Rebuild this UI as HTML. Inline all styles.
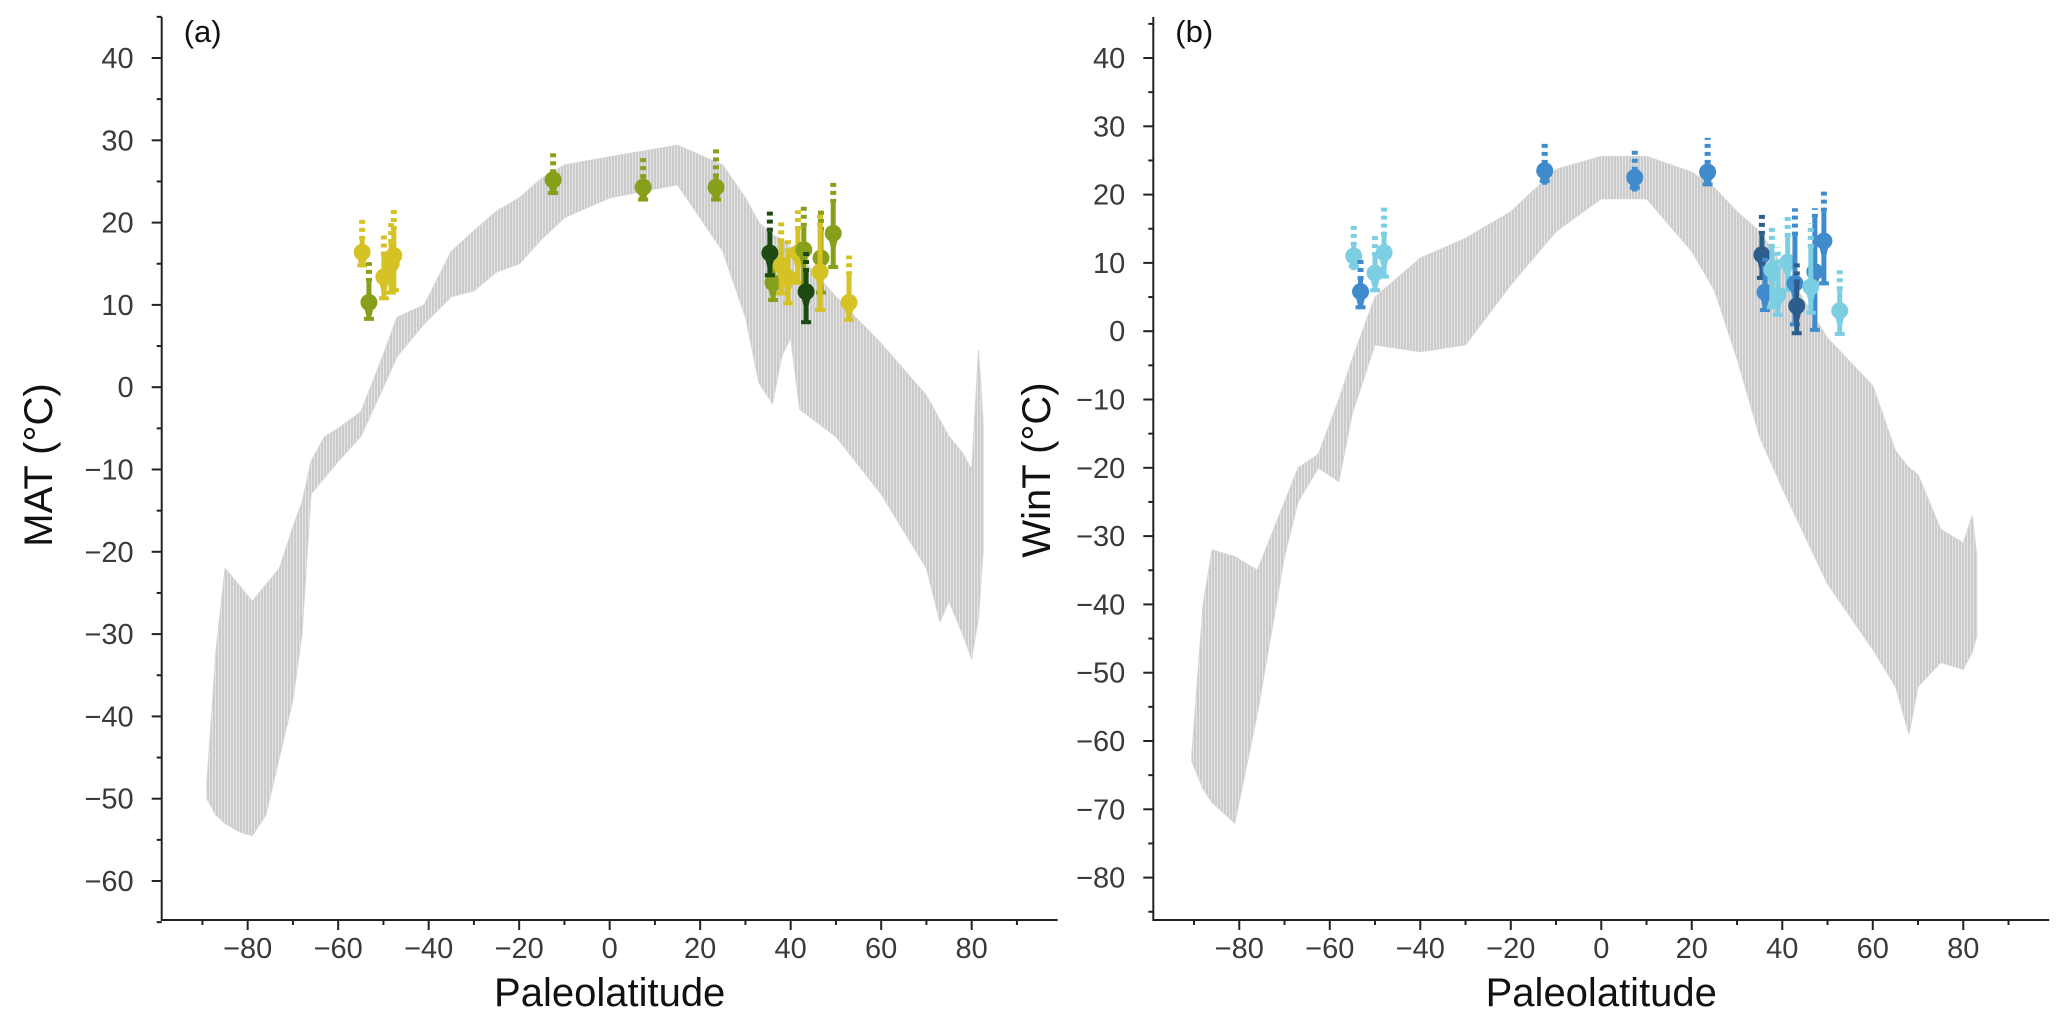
<!DOCTYPE html>
<html><head><meta charset="utf-8"><style>
html,body{margin:0;padding:0;background:#fff;}
svg{display:block;}
text{font-family:"Liberation Sans",sans-serif;}
</style></head><body>
<svg id="chart" width="2067" height="1029" viewBox="0 0 2067 1029" xmlns="http://www.w3.org/2000/svg">
<defs>
<pattern id="stripes" patternUnits="userSpaceOnUse" width="3" height="4">
<rect x="0" y="0" width="3" height="4" fill="#e4e4e4"/>
<rect x="0" y="0" width="2" height="4" fill="#cbcbcb"/>
</pattern>
</defs>
<g id="panelA"></g>
<g id="panelB"></g>
</svg>
<script>
// ---- Panel A data (MAT) ----
const cloudA_lat = [-89,-87,-85,-82,-79,-76,-73,-70,-68,-66,-63,-60,-55,-50,-47,-41,-35,-30,-25,-20,-15,-10,0,15,25,30,33,36,38,40,42,50,60,70,73,75,78,80,81.5,82.5];
const cloudA_top = [-48,-32,-22,-24,-26,-24,-22,-17,-14,-9,-6,-5,-3,4,8.5,10,16.5,19,21.4,23,25.4,27,28,29.4,27,23,20,18.5,18,17,16,11,5.3,-1,-4,-6,-8,-10,4.5,-4];
const cloudA_bot = [-50,-52,-53,-54,-54.5,-52,-45,-38,-30,-13,-11,-9,-6,0,3.7,7.7,11,11.7,14,15,18,20.6,23,24.6,16.5,8.5,0.5,-2,3.7,6,-2.7,-6,-13,-22,-28.5,-26,-30,-33,-28,-20];
const ptsA_lat  = [-54.7,-53.2,-49.9,-48.3,-47.7,-12.5,7.4,23.5,36.1,35.4,37.9,39.4,41.6,42.9,46.7,43.4,46.5,49.4,52.9];
const ptsA_mean = [16.4,10.3,13.4,15,16,25.2,24.3,24.3,12.7,16.3,14.8,13.3,16.3,16.7,15.7,11.6,14,18.7,10.3];
const ptsA_lo   = [14.8,8.3,10.8,11.5,11.8,23.6,22.8,22.8,10.6,13.6,11.4,10.2,12.7,12,11.5,7.9,9.4,14.6,8.2];
const ptsA_hi   = [17.9,12.8,16,17.5,19.1,26,25.4,25.5,14.5,18.9,17.6,16.4,19.1,19.5,19,14,19.5,22.4,13.6];
const ptsA_dash = [20.7,15.2,18.5,20,21.8,28.8,28.3,29,17,21.8,20.3,18.2,21.5,22,21.5,16.7,21.5,24.9,16];
const ptsA_grp  = ['Y','O','Y','Y','Y','O','O','O','O','G','Y','Y','Y','O','O','G','Y','O','Y'];
const yTicksA = [40,30,20,10,0,-10,-20,-30,-40,-50,-60];
// ---- Panel B data (WinT) ----
const cloudB_lat = [-90.5,-88,-86,-81,-76,-70,-67,-62.5,-58,-55,-50,-40,-30,-20,-10,0,10,20,25,30,35,40,50,60,65,68,70,75,80,82,83];
const cloudB_top = [-62,-40,-32,-33,-35,-25,-20,-18,-10,-4,5,10.7,13.6,17.5,23.7,25.6,25.6,23.3,21,17.5,14.6,9.7,-1,-8,-17.5,-20,-21,-29,-31,-27,-33];
const cloudB_bot = [-63,-67,-69,-72,-56,-33,-25,-20,-22,-12,-2,-3,-2,6.8,14.6,19.4,19.4,11.7,6,-4,-15.5,-23,-37,-46.6,-52,-59,-52,-48.5,-49.5,-47,-44.6];
const ptsB_lat  = [-54.7,-53.2,-50,-48,-12.5,7.4,23.5,35.5,36.2,37.7,39,41.2,42.8,47.2,43.2,46.3,49.2,52.7];
const ptsB_mean = [11,5.8,8.5,11.5,23.5,22.5,23.3,11.2,5.7,9,5.3,10.1,7,8.7,3.7,6.5,13.2,3];
const ptsB_lo   = [9.5,3.5,6,8,22,21,21.5,7.8,3.1,3.5,2.4,6,1,0.2,-0.3,2.7,7,-0.4];
const ptsB_hi   = [12.5,7.5,11,14,24.5,23.5,24.5,14.1,9,12.2,8.7,13.8,14,16.6,7,12.2,17.5,6];
const ptsB_dash = [16,10.5,14,18.5,28,27,28.3,17.5,11,15.3,12.3,17,18,18,10,15.8,20.7,9];
const ptsB_grp  = ['L','M','L','L','M','M','M','D','M','L','L','L','M','M','D','L','M','L'];
const yTicksB = [40,30,20,10,0,-10,-20,-30,-40,-50,-60,-70,-80];
const xTicks = [-80,-60,-40,-20,0,20,40,60,80];

const COLORS = {Y:'#d5c326',O:'#86a01c',G:'#1d4a10',L:'#7ccfe3',M:'#3f8bcb',D:'#2c5d8b'};
const NS='http://www.w3.org/2000/svg';
function mk(parent, tag, attrs){const e=document.createElementNS(NS,tag);for(const k in attrs)e.setAttribute(k,attrs[k]);parent.appendChild(e);return e;}

function drawPanel(g, cfg){
  const x = lat => cfg.x0 + (lat - cfg.xmin) * cfg.xs;
  const y = v => cfg.yTop40 + (40 - v) * cfg.ys;
  const left = x(cfg.xmin), right = x(cfg.xmax), bottom = 920, top = 17;
  let d = '';
  cfg.cLat.forEach((l,i)=>{ d += (i?'L':'M') + x(l).toFixed(1) + ' ' + y(cfg.cTop[i]).toFixed(1) + ' '; });
  for (let i=cfg.cLat.length-1;i>=0;i--) d += 'L' + x(cfg.cLat[i]).toFixed(1) + ' ' + y(cfg.cBot[i]).toFixed(1) + ' ';
  const cloud = mk(g,'path',{d:d+'Z',fill:'url(#stripes)',stroke:'#d6d6d6','stroke-width':1});
  
  
  cfg.pLat.forEach((l,i)=>{
    const c = COLORS[cfg.pGrp[i]], px = x(l);
    const pg = mk(g,'g',{});
    
    
    mk(pg,'line',{x1:px,x2:px,y1:y(cfg.pHi[i]),y2:y(cfg.pDash[i]),stroke:c,'stroke-width':6,'stroke-dasharray':'4 4'});
    mk(pg,'line',{x1:px,x2:px,y1:y(cfg.pLo[i]),y2:y(cfg.pHi[i]),stroke:c,'stroke-width':5});
    mk(pg,'rect',{x:px-5,y:y(cfg.pLo[i])-2,width:10,height:4,fill:c});
    mk(pg,'polygon',{points:`${px-6},${y(cfg.pMean[i])} ${px+6},${y(cfg.pMean[i])} ${px+2.5},${y(cfg.pMean[i])+14} ${px-2.5},${y(cfg.pMean[i])+14}`,fill:c});
    mk(pg,'circle',{cx:px,cy:y(cfg.pMean[i]),r:8.5,fill:c});
  });
  const ax = mk(g,'path',{d:`M${left} ${top} L${left} ${bottom} L${right} ${bottom}`,fill:'none',stroke:'#222','stroke-width':2});
  
  
  cfg.yTicks.forEach(v=>{
    mk(g,'line',{x1:left-10,x2:left,y1:y(v),y2:y(v),stroke:'#222','stroke-width':2});
    mk(g,'line',{x1:left-5,x2:left,y1:y(v-5),y2:y(v-5),stroke:'#222','stroke-width':2});
    const t = mk(g,'text',{x:left-28,y:y(v)+10,'text-anchor':'end','font-size':29,fill:'#3a3a3a'});
    t.textContent = v<0 ? '\u2212'+Math.abs(v) : String(v);
    
    
  });
  mk(g,'line',{x1:left-5,x2:left,y1:y(45),y2:y(45),stroke:'#222','stroke-width':2});
  for (let v=-90; v<=90; v+=20) mk(g,'line',{x1:x(v),x2:x(v),y1:bottom,y2:bottom+5,stroke:'#222','stroke-width':2});
  xTicks.forEach(v=>{
    mk(g,'line',{x1:x(v),x2:x(v),y1:bottom,y2:bottom+10,stroke:'#222','stroke-width':2});
    const t = mk(g,'text',{x:x(v),y:958,'text-anchor':'middle','font-size':29,fill:'#3a3a3a'});
    t.textContent = v<0 ? '\u2212'+Math.abs(v) : String(v);
    
    
  });
  const xt = mk(g,'text',{x:x(0),y:1006,'text-anchor':'middle','font-size':40,fill:'#111'});
  xt.textContent = 'Paleolatitude';
  
  
  const yt = mk(g,'text',{x:0,y:0,'text-anchor':'middle','font-size':40,fill:'#111',transform:`translate(${cfg.yTitleX},${cfg.yTitleY}) rotate(-90)`});
  yt.textContent = cfg.yTitle;
  
  
  const pl = mk(g,'text',{x:left+22,y:42,'font-size':31,fill:'#111'});
  pl.textContent = cfg.label;
  
  
}

drawPanel(document.getElementById('panelA'), {x0:161.7,xmin:-99,xmax:99,xs:4.525,yTop40:58,ys:8.23,
  cLat:cloudA_lat,cTop:cloudA_top,cBot:cloudA_bot,pLat:ptsA_lat,pMean:ptsA_mean,pLo:ptsA_lo,pHi:ptsA_hi,pDash:ptsA_dash,pGrp:ptsA_grp,
  yTicks:yTicksA,yTitle:'MAT (°C)',yTitleX:52,yTitleY:465,label:'(a)'});
drawPanel(document.getElementById('panelB'), {x0:1153.3,xmin:-99,xmax:99,xs:4.525,yTop40:58,ys:6.83,
  cLat:cloudB_lat,cTop:cloudB_top,cBot:cloudB_bot,pLat:ptsB_lat,pMean:ptsB_mean,pLo:ptsB_lo,pHi:ptsB_hi,pDash:ptsB_dash,pGrp:ptsB_grp,
  yTicks:yTicksB,yTitle:'WinT (°C)',yTitleX:1050,yTitleY:470,label:'(b)'});
</script>
</body></html>
